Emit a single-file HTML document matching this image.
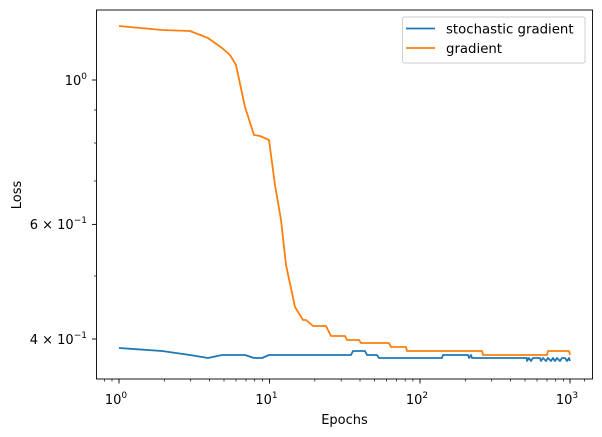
<!DOCTYPE html>
<html><head><style>body{margin:0;background:#fff}svg{display:block}text{font-family:"DejaVu Sans","Liberation Sans",sans-serif;fill:#000}</style></head>
<body>
<svg width="602" height="437" viewBox="0 0 602 437" xmlns="http://www.w3.org/2000/svg">
<rect width="602" height="437" fill="#fff"/>
<g stroke="#000" stroke-width="0.9">
<line x1="119" y1="379" x2="119" y2="383.5"/><line x1="269.5" y1="379" x2="269.5" y2="383.5"/><line x1="420" y1="379" x2="420" y2="383.5"/><line x1="570" y1="379" x2="570" y2="383.5"/>
<g stroke-width="0.7">
<line x1="104.5" y1="379" x2="104.5" y2="381.5"/><line x1="112" y1="379" x2="112" y2="381.5"/>
<line x1="164.3" y1="379" x2="164.3" y2="381.5"/><line x1="190.7" y1="379" x2="190.7" y2="381.5"/><line x1="209.5" y1="379" x2="209.5" y2="381.5"/><line x1="224" y1="379" x2="224" y2="381.5"/><line x1="236" y1="379" x2="236" y2="381.5"/><line x1="246" y1="379" x2="246" y2="381.5"/><line x1="254.7" y1="379" x2="254.7" y2="381.5"/><line x1="262.4" y1="379" x2="262.4" y2="381.5"/>
<line x1="314.8" y1="379" x2="314.8" y2="381.5"/><line x1="341.2" y1="379" x2="341.2" y2="381.5"/><line x1="360" y1="379" x2="360" y2="381.5"/><line x1="374.5" y1="379" x2="374.5" y2="381.5"/><line x1="386.5" y1="379" x2="386.5" y2="381.5"/><line x1="396.5" y1="379" x2="396.5" y2="381.5"/><line x1="405.2" y1="379" x2="405.2" y2="381.5"/><line x1="412.9" y1="379" x2="412.9" y2="381.5"/>
<line x1="465.3" y1="379" x2="465.3" y2="381.5"/><line x1="491.7" y1="379" x2="491.7" y2="381.5"/><line x1="510.5" y1="379" x2="510.5" y2="381.5"/><line x1="525" y1="379" x2="525" y2="381.5"/><line x1="537" y1="379" x2="537" y2="381.5"/><line x1="547" y1="379" x2="547" y2="381.5"/><line x1="555.7" y1="379" x2="555.7" y2="381.5"/><line x1="563.4" y1="379" x2="563.4" y2="381.5"/>
<line x1="584.5" y1="379" x2="584.5" y2="381.5"/>
<line x1="94" y1="110" x2="96.5" y2="110"/><line x1="94" y1="143" x2="96.5" y2="143"/><line x1="94" y1="181" x2="96.5" y2="181"/><line x1="94" y1="276" x2="96.5" y2="276"/>
</g>
<line x1="92" y1="80" x2="96.5" y2="80"/><line x1="92" y1="224.4" x2="96.5" y2="224.4"/><line x1="92" y1="339" x2="96.5" y2="339"/>
</g>
<g fill="none" stroke-width="1.8" stroke-linejoin="round">
<polyline stroke="#1f77b4" points="119,348 162,351 190,355 208,358 222,355 245,355 254,358 262,358 269,355 351,355 353,351 365,351 367,355 377,355 379,358 442,358 443,355 468,355 469,358 471,355 472,358 527,358 527,361 529,358 531,361 533,358 540,358 541,361 543,358 546,361 548,358 551,361 553,358 555,361 557,358 560,361 562,358 565,358 567,361 569,358 570,361"/>
<polyline stroke="#ff7f0e" points="119,26 162,30 190,31 208,38 222,48 230,55 236,65 245,107 254,135 260,136 269,140 275,185 281,220 286,265 295,307 303,320 306,320 313,326 326,326 331,336 345,336 347,340 359,340 361,343 389,343 391,347 406,347 407,351 482,351 483,355 547,355 548,351 569,351 570,355"/>
</g>
<rect x="96.5" y="10" width="496" height="369" fill="none" stroke="#000" stroke-width="0.9"/>
<rect x="402.5" y="17" width="182.5" height="46" rx="2" fill="#fff" fill-opacity="0.8" stroke="#ccc" stroke-width="0.9"/>
<line x1="406" y1="28.5" x2="435" y2="28.5" stroke="#1f77b4" stroke-width="1.8"/>
<line x1="406" y1="48" x2="435" y2="48" stroke="#ff7f0e" stroke-width="1.8"/>
<text x="446" y="33.5" font-size="13.3">stochastic gradient</text>
<text x="446" y="53" font-size="13.3">gradient</text>
<g font-size="13" text-anchor="middle">
<text x="116" y="404">10<tspan font-size="9" dy="-6">0</tspan></text>
<text x="266.5" y="404">10<tspan font-size="9" dy="-6">1</tspan></text>
<text x="417" y="404">10<tspan font-size="9" dy="-6">2</tspan></text>
<text x="567" y="404">10<tspan font-size="9" dy="-6">3</tspan></text>
</g>
<g font-size="13" text-anchor="end">
<text x="87" y="85">10<tspan font-size="9" dy="-6">0</tspan></text>
<text x="87" y="229">6 × 10<tspan font-size="9" dy="-6">−1</tspan></text>
<text x="87" y="344">4 × 10<tspan font-size="9" dy="-6">−1</tspan></text>
</g>
<text x="344.5" y="424" font-size="13" text-anchor="middle">Epochs</text>
<text transform="translate(21,195) rotate(-90)" font-size="13" text-anchor="middle">Loss</text>
</svg>
</body></html>
